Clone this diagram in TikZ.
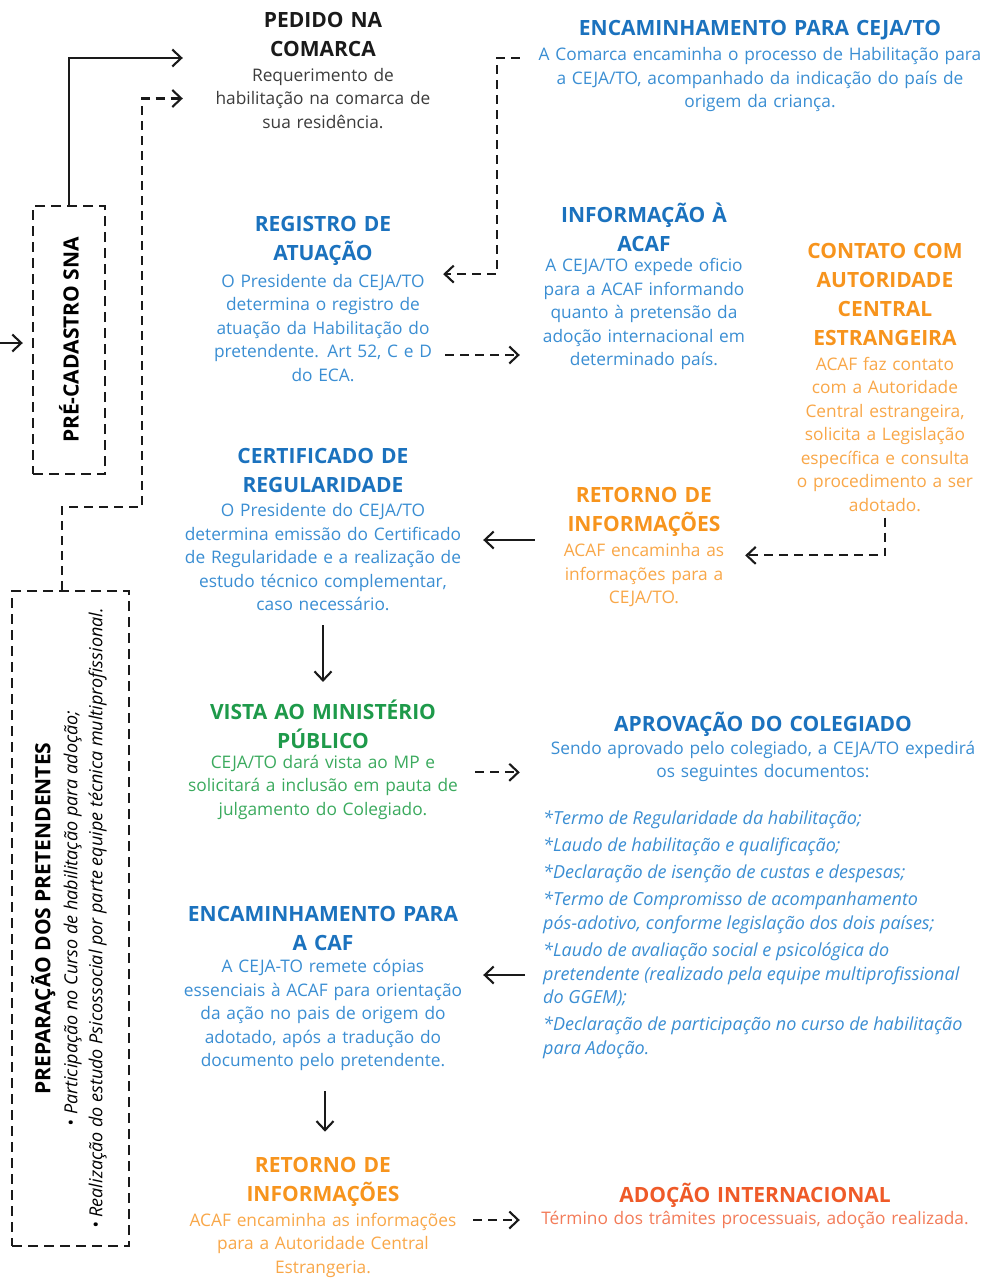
\documentclass[tikz,border=0pt]{standalone}
\usepackage{fontspec}
\setmainfont{Open Sans}
\usepackage{graphicx}
\usepackage{tikz}
\usetikzlibrary{arrows.meta,calc}

\definecolor{preto}{HTML}{1A1A1A}
\definecolor{cinza}{HTML}{3C3C3C}
\definecolor{azul}{HTML}{1B72BE}
\definecolor{azulclaro}{HTML}{3A8ED3}
\definecolor{laranja}{HTML}{F7941D}
\definecolor{laranjaclaro}{HTML}{F9A748}
\definecolor{verde}{HTML}{1E9A4A}
\definecolor{verdeclaro}{HTML}{3BAA5E}
\definecolor{vermelho}{HTML}{EF5A28}
\definecolor{vermelhoclaro}{HTML}{F37B58}

\newcommand{\titfont}{\fontsize{21}{29}\selectfont\bfseries}
\newcommand{\corfont}{\fontsize{17.3}{23.5}\selectfont}

\tikzset{
  titulo/.style={align=center, inner sep=0pt, font=\titfont, text width=#1},
  corpo/.style={align=center, inner sep=0pt, font=\corfont, text width=#1},
  caixa/.style={draw=preto, line width=2.4pt, dash pattern=on 10pt off 6pt, inner sep=0pt},
  seta/.style={-{Straight Barb[length=9pt,width=17pt]}, line width=2.1pt, draw=preto},
  tracej/.style={seta, dash pattern=on 9pt off 6pt}
}

\begin{document}
\begin{tikzpicture}[x=1pt, y=-1pt]
  \useasboundingbox[fill=white] (0,0) rectangle (981,1280);

  % caixas laterais
  \node[caixa, minimum width=72pt, minimum height=268pt] (pre) at (69,340)
    {\rotatebox{90}{\titfont PRÉ-CADASTRO SNA}};
  \node[caixa, minimum width=117pt, minimum height=655pt] (prep) at (70.5,918.5)
    {\rotatebox{90}{\fontsize{18}{25}\selectfont\begin{tabular}{@{}c@{}}
      {\titfont PREPARAÇÃO DOS PRETENDENTES}\\[2pt]
      \itshape • Participação no Curso de habilitação para adoção;\\
      \itshape • Realização do estudo Psicossocial por parte equipe técnica multiprofissional.
    \end{tabular}}};

  % coluna esquerda
  \node[titulo=300pt, text=preto] (pedT) at (323,34) {PEDIDO NA\\COMARCA};
  \node[corpo=300pt, text=cinza] (ped) at (323,98.5)
    {Requerimento de\\habilitação na comarca de\\sua residência.};

  \node[titulo=300pt, text=azul] (regT) at (323,241) {REGISTRO DE\\ATUAÇÃO};
  \node[corpo=300pt, text=azulclaro] (reg) at (323,328)
    {O Presidente da CEJA/TO\\determina o registro de\\atuação da Habilitação do\\pretendente. Art 52, C e D\\do ECA.};

  \node[titulo=300pt, text=azul] (cerT) at (323,470.5) {CERTIFICADO DE\\REGULARIDADE};
  \node[corpo=300pt, text=azulclaro] (cer) at (323,557.4)
    {O Presidente do CEJA/TO\\determina emissão do Certificado\\de Regularidade e a realização de\\estudo técnico complementar,\\caso necessário.};

  \node[titulo=300pt, text=verde] (visT) at (323,724.5) {VISTA AO MINISTÉRIO\\PÚBLICO};
  \node[corpo=300pt, text=verdeclaro] (vis) at (323,787.3)
    {CEJA/TO dará vista ao MP e\\solicitará a inclusão em pauta de\\julgamento do Colegiado.};

  \node[titulo=300pt, text=azul] (cafT) at (323,928.5) {ENCAMINHAMENTO PARA\\A CAF};
  \node[corpo=300pt, text=azulclaro] (caf) at (323,1015.2)
    {A CEJA-TO remete cópias\\essenciais à ACAF para orientação\\da ação no pais de origem do\\adotado, após a tradução do\\documento pelo pretendente.};

  \node[titulo=300pt, text=laranja] (ret2T) at (323,1181.5) {RETORNO DE\\INFORMAÇÕES};
  \node[corpo=300pt, text=laranjaclaro] (ret2) at (323,1245)
    {ACAF encaminha as informações\\para a Autoridade Central\\Estrangeria.};

  % coluna direita
  \node[titulo=470pt, text=azul] (encT) at (760,30) {ENCAMINHAMENTO PARA CEJA/TO};
  \node[corpo=470pt, text=azulclaro] (enc) at (760,80)
    {A Comarca encaminha o processo de Habilitação para\\a CEJA/TO, acompanhado da indicação do país de\\origem da criança.};

  \node[titulo=220pt, text=azul] (infT) at (644,227.5) {INFORMAÇÃO À\\ACAF};
  \node[corpo=220pt, text=azulclaro] (inf) at (644,314)
    {A CEJA/TO expede oficio\\para a ACAF informando\\quanto à pretensão da\\adoção internacional em\\determinado país.};

  \node[titulo=190pt, text=laranja] (conT) at (885,294) {CONTATO COM\\AUTORIDADE\\CENTRAL\\ESTRANGEIRA};
  \node[corpo=190pt, text=laranjaclaro] (con) at (885,434.3)
    {ACAF faz contato\\com a Autoridade\\Central estrangeira,\\solicita a Legislação\\específica e consulta\\o procedimento a ser\\adotado.};

  \node[titulo=190pt, text=laranja] (ret1T) at (644,511.5) {RETORNO DE\\INFORMAÇÕES};
  \node[corpo=190pt, text=laranjaclaro] (ret1) at (644,575.3)
    {ACAF encaminha as\\informações para a\\CEJA/TO.};

  \node[titulo=460pt, text=azul] (aprT) at (763,724) {APROVAÇÃO DO COLEGIADO};
  \node[corpo=460pt, text=azulclaro] (apr) at (763,761.5)
    {Sendo aprovado pelo colegiado, a CEJA/TO expedirá\\os seguintes documentos:};
  \node[align=left, inner sep=0pt, anchor=west, text=azulclaro,
        font=\fontsize{18}{23.75}\selectfont\itshape] (lista) at (543,935)
    {*Termo de Regularidade da habilitação;\\[3.25pt]
     *Laudo de habilitação e qualificação;\\[3.25pt]
     *Declaração de isenção de custas e despesas;\\[3.25pt]
     *Termo de Compromisso de acompanhamento\\pós-adotivo, conforme legislação dos dois países;\\[3.25pt]
     *Laudo de avaliação social e psicológica do\\pretendente (realizado pela equipe multiprofissional\\do GGEM);\\[3.25pt]
     *Declaração de participação no curso de habilitação\\para Adoção.};

  \node[titulo=440pt, text=vermelho] (adoT) at (755,1195) {ADOÇÃO INTERNACIONAL};
  \node[corpo=450pt, text=vermelhoclaro] (ado) at (755,1220)
    {Término dos trâmites processuais, adoção realizada.};

  % ligacoes
  \coordinate (entrada) at (0,343);
  \draw[seta, shorten >=9pt] (entrada) -- (entrada -| pre.west);
  \draw[seta] (pre.north) |- ([shift={(10pt,-24pt)}]pedT.west);
  \draw[tracej] ([xshift=-8.5pt]prep.north) -- ++(0,-83) -- ++(80,0) |- ([xshift=10pt]ped.west);
  \draw[tracej] ([shift={(-5pt,22pt)}]enc.west) -- ++(-23,0) |- ([xshift=-30pt]reg.north east);
  \draw[tracej, shorten >=14pt] ([shift={(-28pt,-27pt)}]reg.east) -- ([yshift=-27pt]reg.east -| inf.west);
  \draw[tracej, shorten <=6pt] (con.south) |- ([shift={(6pt,-12pt)}]ret1.north east);
  \draw[seta, shorten <=14pt, shorten >=10pt] ([yshift=-28.5pt]ret1T.west) -- ([yshift=-28.5pt]ret1T.west -| cer.east);
  \draw[seta, shorten <=14pt, shorten >=18pt] (cer.south) -- (visT.north);
  \draw[tracej, shorten <=2pt, shorten >=13pt] ([yshift=15pt]vis.east) -- ([yshift=15pt]vis.east -| apr.west);
  \draw[seta, shorten <=18pt, shorten >=10pt] ([yshift=-40pt]lista.west) -- ([yshift=-40pt]lista.west -| caf.east);
  \draw[seta, shorten <=20pt, shorten >=25pt] ([xshift=2pt]caf.south) -- ([xshift=2pt]ret2T.north);
  \draw[tracej, shorten >=10pt] (ado.west -| ret2.east) -- (ado.west);
\end{tikzpicture}
\end{document}
